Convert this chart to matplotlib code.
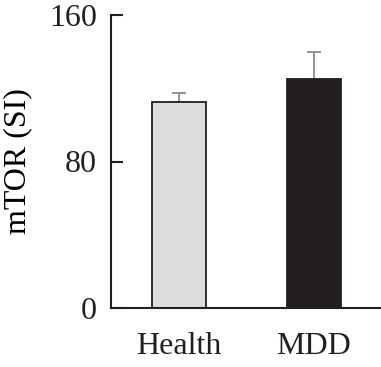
import matplotlib
matplotlib.use("Agg")
import matplotlib.pyplot as plt

categories = ["Health", "MDD"]
values = [112.7, 124.9]
errors = [4.9, 14.7]
yticks = [0, 80, 160]
ylabel = "mTOR (SI)"

plt.rcParams['font.family'] = ['Liberation Serif', 'DejaVu Serif']

fig = plt.figure(figsize=(3.81, 3.67), dpi=100)
ax = fig.add_axes([111/381, 59/367, 1 - 111/381, 293/367])

x = list(range(len(categories)))
ax.bar(x, values, width=0.4, color=["#dcdddf", "#231f20"],
       edgecolor="#231f20", linewidth=1.3, zorder=2)
ax.errorbar(x, values, yerr=[[0]*len(errors), errors], fmt='none',
            ecolor="#8a8a8a", elinewidth=1.3, capsize=4.7, capthick=1.3, zorder=1)

ax.set_xlim(-0.5, 1.5)
ax.set_ylim(0, 160)
ax.set_yticks(yticks)
ax.set_xticks(x)
ax.set_xticklabels(categories)
ax.set_ylabel(ylabel, fontsize=23, labelpad=12)

for s in ["top", "right"]:
    ax.spines[s].set_visible(False)
for s in ["left", "bottom"]:
    ax.spines[s].set_linewidth(1.5)
    ax.spines[s].set_color("#231f20")

ax.tick_params(axis='y', direction='in', length=8.6, width=1.5, pad=10,
               labelsize=23, colors="#231f20")
ax.tick_params(axis='x', length=0, pad=17.5, labelsize=23, colors="#231f20")

fig.savefig("out.png", dpi=100)
